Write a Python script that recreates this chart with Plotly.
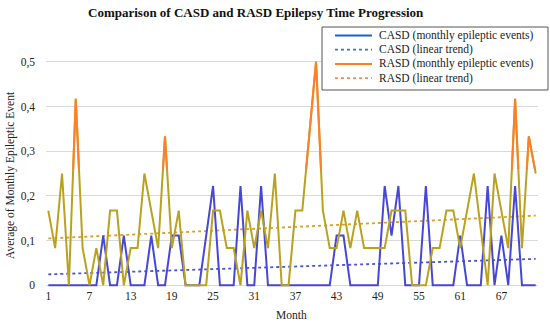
import numpy as np
import plotly.graph_objects as go

months = list(range(1, 73))
casd = [0, 0, 0, 0, 0, 0, 0, 0, 0.111, 0, 0, 0.111, 0, 0, 0, 0.111, 0, 0, 0.111, 0.111,
        0, 0, 0, 0.111, 0.222, 0, 0, 0, 0.222, 0, 0, 0.222, 0, 0, 0, 0, 0, 0, 0, 0,
        0, 0, 0.111, 0.111, 0, 0, 0, 0, 0, 0.222, 0.111, 0.222, 0, 0, 0, 0.222, 0, 0, 0, 0,
        0.111, 0, 0, 0, 0.222, 0, 0.111, 0, 0.222, 0, 0, 0]
rasd = [0.167, 0.083, 0.25, 0, 0.417, 0.083, 0, 0.083, 0, 0.167, 0.167, 0, 0.083, 0.083, 0.25, 0.167,
        0.083, 0.333, 0.083, 0.167, 0, 0, 0, 0, 0.167, 0.167, 0.083, 0.083, 0, 0.167, 0.083, 0.167,
        0.083, 0.25, 0, 0, 0.167, 0.167, 0.333, 0.5, 0.167, 0.083, 0.083, 0.167, 0.083, 0.167, 0.083, 0.083,
        0.083, 0.083, 0.167, 0.167, 0.167, 0, 0, 0, 0.083, 0.083, 0.167, 0.167, 0.083, 0.167, 0.25, 0.125,
        0, 0.25, 0.167, 0.083, 0.417, 0.083, 0.333, 0.25]
x_ticks = [1, 7, 13, 19, 25, 31, 37, 43, 49, 55, 61, 67]
y_ticks = [0, 0.1, 0.2, 0.3, 0.4, 0.5]
legend_names = ["CASD (monthly epileptic events)", "CASD (linear trend)",
                "RASD (monthly epileptic events)", "RASD (linear trend)"]

m = np.array(months, dtype=float)
c_fit = np.polyfit(m, np.array(casd), 1)
r_fit = np.polyfit(m, np.array(rasd), 1)
casd_trend = list(np.polyval(c_fit, m))
rasd_trend = list(np.polyval(r_fit, m))

FONT = "Liberation Serif"
FS = 11.5
TXT = "#222222"
YMIN, YMAX = -0.004, 0.504
SPLIT = 0.26
XR = [0.665, 72.335]

W, H = 550, 323
L, R, T, B = 46, 538, 60, 287


def px(xpix):
    return (xpix - L) / (R - L)


def py(ypix):
    return (B - ypix) / (B - T)


fig = go.Figure()

fig.add_trace(go.Scatter(x=months, y=casd_trend, mode="lines", showlegend=False,
                         line=dict(color="#4a56cf", width=1.8, dash="dot")))
fig.add_trace(go.Scatter(x=months, y=rasd_trend, mode="lines", showlegend=False,
                         line=dict(color="#d9a02c", width=1.8, dash="dot")))
fig.add_trace(go.Scatter(x=months, y=casd, mode="lines", showlegend=False,
                         line=dict(color="#4747d6", width=2)))
fig.add_trace(go.Scatter(x=months, y=rasd, mode="lines", showlegend=False,
                         line=dict(color="#b9a21f", width=2)))
fig.add_trace(go.Scatter(x=months, y=rasd, mode="lines", showlegend=False,
                         xaxis="x2", yaxis="y2",
                         line=dict(color="#ff7f27", width=2)))

split_frac = (SPLIT - YMIN) / (YMAX - YMIN)

leg_colors = ["#1a68b8", "#2c7cc4", "#ff7f27", "#ff8a3c"]
leg_dash = ["solid", "dot", "solid", "dot"]
shapes = [dict(type="rect", xref="paper", yref="paper",
               x0=px(322), x1=px(548), y0=py(27), y1=py(90),
               line=dict(color="#555555", width=1), fillcolor="white", layer="above")]
annotations = []
for i, (nm, col, ds) in enumerate(zip(legend_names, leg_colors, leg_dash)):
    yy = 35.5 + i * 14.2
    shapes.append(dict(type="line", xref="paper", yref="paper",
                       x0=px(335), x1=px(372), y0=py(yy), y1=py(yy),
                       line=dict(color=col, width=2 if ds == "solid" else 1.8, dash=ds),
                       layer="above"))
    annotations.append(dict(text=nm, xref="paper", yref="paper", x=px(377), y=py(yy),
                            xanchor="left", yanchor="middle", showarrow=False,
                            font=dict(family=FONT, size=FS, color=TXT)))

annotations.append(dict(text="Month", xref="paper", yref="paper", x=px(291), y=py(315),
                        xanchor="center", yanchor="middle", showarrow=False,
                        font=dict(family=FONT, size=FS, color=TXT)))
annotations.append(dict(text="Average of Monthly Epileptic Event", xref="paper", yref="paper",
                        x=px(10), y=py(175), textangle=-90,
                        xanchor="center", yanchor="middle", showarrow=False,
                        font=dict(family=FONT, size=FS, color=TXT)))
annotations.append(dict(text="<b>Comparison of CASD and RASD Epilepsy Time Progression</b>",
                        xref="paper", yref="paper", x=px(256), y=py(12.5),
                        xanchor="center", yanchor="middle", showarrow=False,
                        font=dict(family=FONT, size=13, color="#111111")))

fig.update_layout(
    width=W, height=H,
    margin=dict(l=L, r=W - R, t=T, b=H - B, autoexpand=False),
    paper_bgcolor="white", plot_bgcolor="rgba(0,0,0,0)",
    separators=",.",
    showlegend=False,
    hovermode=False,
    font=dict(family=FONT, size=FS, color=TXT),
    xaxis=dict(range=XR, tickvals=x_ticks, showgrid=False, zeroline=False,
               showline=False, ticks="", automargin=False,
               tickfont=dict(family=FONT, size=FS, color=TXT)),
    yaxis=dict(range=[YMIN, YMAX], tickvals=y_ticks, showgrid=True, gridcolor="#d9d9d9",
               gridwidth=1, zeroline=False, showline=False, ticks="", automargin=False,
               tickfont=dict(family=FONT, size=FS, color=TXT), ticklabelstandoff=10),
    xaxis2=dict(range=XR, visible=False, anchor="y2"),
    yaxis2=dict(range=[SPLIT, YMAX], domain=[split_frac, 1], visible=False, anchor="x2"),
    shapes=shapes,
    annotations=annotations,
)

fig.write_html("out.html", config={"displayModeBar": False},
               post_script="document.body.style.margin='0px';")
